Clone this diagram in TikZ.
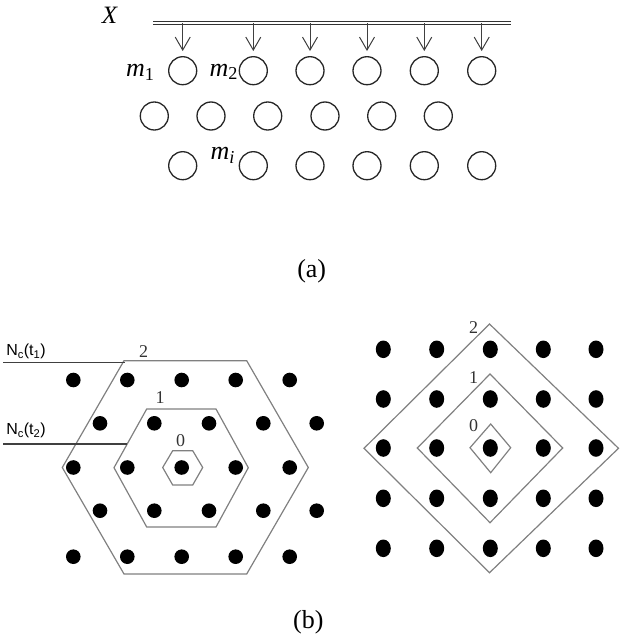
\documentclass[tikz,border=0pt]{standalone}
\usepackage{fontspec}
\setmainfont{Liberation Serif}
\newfontfamily\labsans{Liberation Sans}
\usetikzlibrary{arrows.meta,shapes.geometric}
\begin{document}
\begin{tikzpicture}[x=1pt,y=-1pt,
  ring/.style={circle,draw=black!85,line width=1.3pt,minimum size=28pt,inner sep=0pt},
  hdot/.style={circle,fill=black,minimum size=14.6pt,inner sep=0pt},
  vdot/.style={ellipse,fill=black,minimum width=15pt,minimum height=17.6pt,inner sep=0pt},
  shell/.style={draw=black!50,line width=1.2pt,line join=miter},
  lead/.style={draw=black!75,line width=1.1pt},
  feed/.style={draw=black!75,line width=1pt,-{Straight Barb[length=13pt,width=15pt]},shorten >=5pt},
  busline/.style={draw=black!80,line width=1pt,double=white,double distance=2.3pt},
  lab/.style={font=\fontsize{26}{30}\selectfont,inner sep=0pt},
  xlab/.style={font=\fontsize{25}{30}\selectfont,inner sep=0pt},
  mlab/.style={font=\fontsize{26}{30}\selectfont,inner sep=0pt,anchor=base west},
  num/.style={font=\fontsize{18}{21}\selectfont,inner sep=0pt,text=black!80},
  nc/.style={font=\labsans\fontsize{16}{19}\selectfont,inner sep=0pt}]
\useasboundingbox (0,0) rectangle (619,637);

% ---------- (a) ----------
\node[xlab] (X) at (110,15) {\textit{X}};
\coordinate (busL) at (153,23.3);
\coordinate (busR) at (511,23.3);
\draw[busline] (busL) -- (busR);

\foreach \x [count=\i] in {182.7,253.3,310,367,424.3,481.7}
  \node[ring] (p\i) at (\x,70.7) {};
\foreach \x [count=\i] in {154.3,211,267.7,325,381.7,438.3}
  \node[ring] (q\i) at (\x,116) {};
\foreach \x [count=\i] in {182.7,253.3,310,367,424.3,481.7}
  \node[ring] (r\i) at (\x,165.7) {};

\foreach \i in {1,...,6}
  \draw[feed] (p\i |- busL) -- (p\i.north);

\node[mlab] (m1) at (126,76.7) {\textit{m}\textsubscript{1}};
\node[mlab] (m2) at (209.5,76) {\textit{m}\textsubscript{2}};
\node[mlab] (mi) at (210.5,159.3) {\textit{m}\textsubscript{\textit{i}}};

\node[lab] (capa) at (311.7,271) {(a)};

% ---------- (b) left: hexagonal ----------
\foreach \y [count=\j] in {380,423.3,467.5,510.7,556.7}{
  \ifodd\j
    \foreach \x [count=\i] in {73.3,127.3,181.7,235.7,289.7}
      \node[hdot] (h\j\i) at (\x,\y) {};
  \else
    \foreach \x [count=\i] in {100,154.3,209,263.3,316.7}
      \node[hdot] (h\j\i) at (\x,\y) {};
  \fi
}

\draw[shell] (62.3,467.5) -- (124,360.7) -- (246.7,360.7) -- (308.3,467.5)
  -- (246.7,574) -- (124,574) -- cycle;
\draw[shell] (114,467.7) -- (146.7,409) -- (216,409) -- (248.3,467.7)
  -- (216,527) -- (146.7,527) -- cycle;
\draw[shell] (162.7,467.5) -- (172.7,450.7) -- (192.7,450.7) -- (202.7,467.5)
  -- (192.7,485) -- (172.7,485) -- cycle;

\node[num] (hl2) at (143.5,352) {2};
\node[num] (hl1) at (160,398) {1};
\node[num] (hl0) at (180.5,441) {0};

\coordinate (t1s) at (3,362.3);
\coordinate (t1e) at (124.5,362.3);
\coordinate (t2s) at (3,444);
\coordinate (t2e) at (127.3,444);
\draw[lead] (t1s) -- (t1e);
\draw[lead] (t2s) -- (t2e);
\node[nc] (nc1) at (26,351.5) {N\textsubscript{c}(t\textsubscript{1})};
\node[nc] (nc2) at (26,430.5) {N\textsubscript{c}(t\textsubscript{2})};

% ---------- (b) right: square ----------
\foreach \y [count=\j] in {349.3,399,448,498.3,548.3}
  \foreach \x [count=\i] in {383.3,436.7,490.3,543.3,596}
    \node[vdot] (s\j\i) at (\x,\y) {};

\draw[shell] (489.5,324) -- (618.5,448.3) -- (489.5,572.7) -- (364,448.3) -- cycle;
\draw[shell] (490,374) -- (562.7,448) -- (490,522.7) -- (417.3,448) -- cycle;
\draw[shell] (490.7,424) -- (510.7,447.7) -- (490.7,472.7) -- (470,447.7) -- cycle;

\node[num] (sl2) at (473.5,327.5) {2};
\node[num] (sl1) at (473.5,377.5) {1};
\node[num] (sl0) at (473.5,426) {0};

\node[lab] (capb) at (308.3,622) {(b)};
\end{tikzpicture}
\end{document}
